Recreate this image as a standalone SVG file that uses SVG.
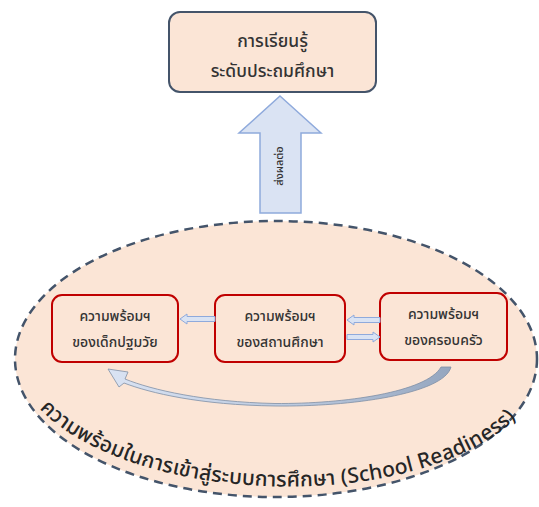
<svg xmlns="http://www.w3.org/2000/svg" width="539" height="507" viewBox="0 0 539 507">
<style>
.t{font-family:"Noto Sans Thai","Noto Sans Thai Looped","Noto Sans","DejaVu Sans",sans-serif;fill:#333333;text-anchor:middle;font-weight:500}
.box{fill:#fbe5d6;stroke:#c00000;stroke-width:2}
.sa{fill:#dae3f3;stroke:#8faadc;stroke-width:1}
</style>
<defs>
<linearGradient id="cg" x1="0" y1="0" x2="1" y2="0">
<stop offset="0" stop-color="#dae3f3"/>
<stop offset="0.55" stop-color="#bccadf"/>
<stop offset="1" stop-color="#95a6bf"/>
</linearGradient>
<path id="arcp" d="M 14.1 353.5 A 264 128 1.4 0 0 541.9 366.5"/>
</defs>
<rect width="539" height="507" fill="#ffffff"/>
<g id="readiness">
<ellipse cx="276" cy="359" rx="261" ry="138" fill="#fbe5d6" stroke="#44546a" stroke-width="2.5" stroke-dasharray="9 6"/>
<text font-family="'Noto Sans Thai','Noto Sans Thai Looped','Noto Sans','DejaVu Sans',sans-serif" font-size="21" font-weight="500" fill="#262626"><textPath href="#arcp" startOffset="62" textLength="510" lengthAdjust="spacing">ความพร้อมในการเข้าสู่ระบบการศึกษา (School Readiness)</textPath></text>
</g>
<g id="learning">
<rect x="169" y="12" width="207" height="80" rx="11" fill="#fbe5d6" stroke="#44546a" stroke-width="2"/>
<text class="t" x="272.5" y="47" font-size="17.5">การเรียนรู้</text>
<text class="t" x="272.5" y="77" font-size="17.5">ระดับประถมศึกษา</text>
</g>
<g id="child">
<rect class="box" x="52" y="295" width="126" height="67" rx="10"/>
<text class="t" x="115" y="321" font-size="14">ความพร้อมฯ</text>
<text class="t" x="115" y="347" font-size="14">ของเด็กปฐมวัย</text>
</g>
<g id="school">
<rect class="box" x="215" y="295" width="130" height="67" rx="10"/>
<text class="t" x="280" y="321" font-size="14">ความพร้อมฯ</text>
<text class="t" x="280" y="347" font-size="14">ของสถานศึกษา</text>
</g>
<g id="family">
<rect class="box" x="380" y="293" width="127" height="67" rx="10"/>
<text class="t" x="443.5" y="319" font-size="14">ความพร้อมฯ</text>
<text class="t" x="443.5" y="345" font-size="14">ของครอบครัว</text>
</g>
<g id="connectors">
<polygon points="280,96 321,133 301,133 301,213 260,213 260,133 239,133" fill="#dae3f3" stroke="#8faadc" stroke-width="1.5"/>
<text class="t" transform="translate(283,166) rotate(-90)" font-size="11">ส่งผลต่อ</text>
<polygon class="sa" points="180,319 187,314 187,316.5 215,316.5 215,321.5 187,321.5 187,324"/>
<polygon class="sa" points="347,320 354,315 354,317.5 380,317.5 380,322.5 354,322.5 354,325"/>
<polygon class="sa" points="380,337 373,332 373,334.5 347,334.5 347,339.5 373,339.5 373,342"/>
<path d="M 451 367 C 444 394 350 407 275 406 C 200 405 150 393 124 383 L 119 387 L 108 369 L 128 372 L 125 379 C 152 390 205 402 275 403.5 C 345 404 427 392 441 367 Z" fill="url(#cg)" stroke="#7f8fa6" stroke-width="0.8"/>
</g>
</svg>
